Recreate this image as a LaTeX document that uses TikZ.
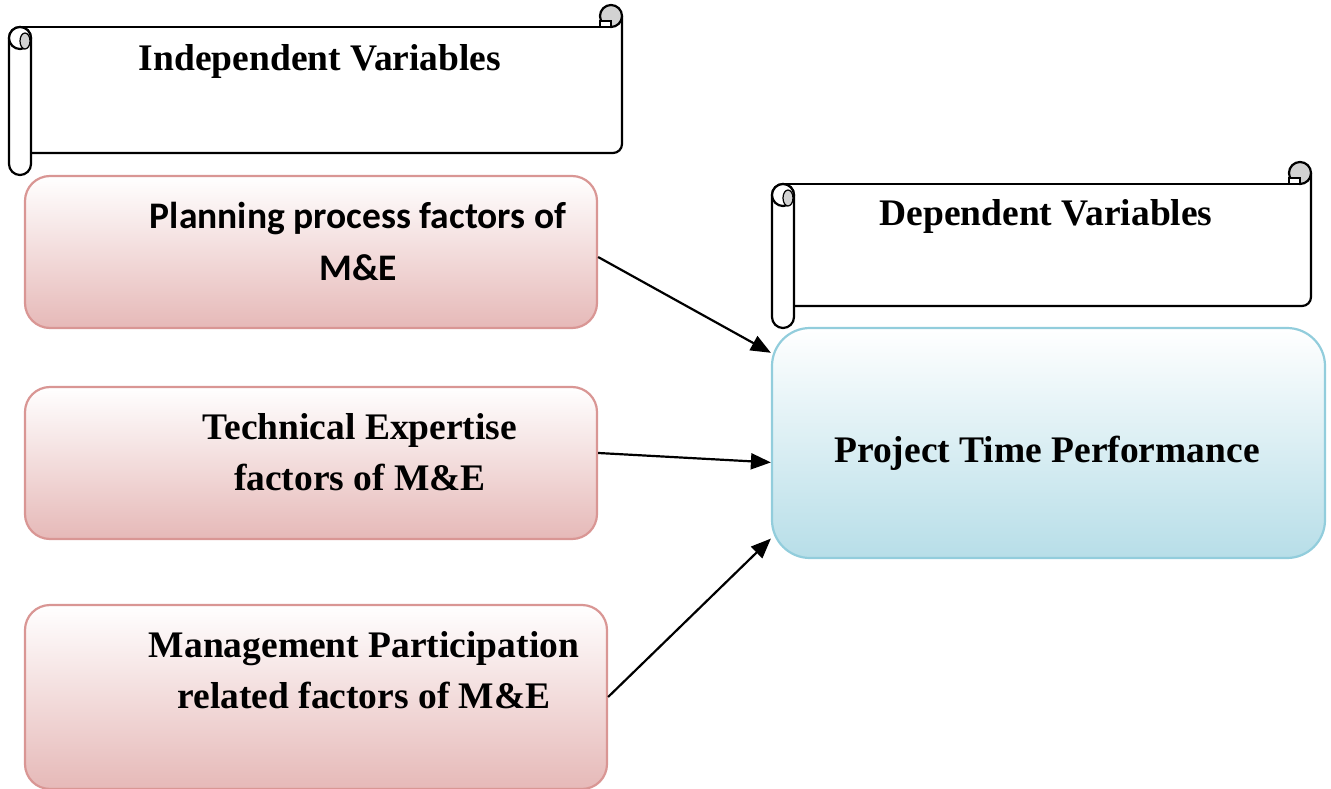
\documentclass[tikz,border=0pt]{standalone}
\usepackage{fontspec}
\setmainfont{Liberation Serif}
\newfontfamily\calibri{Carlito}
\usepackage{tikz}
\usetikzlibrary{arrows.meta}

\definecolor{pinkedge}{HTML}{D99694}
\definecolor{pinkfill}{HTML}{E6B9B8}
\definecolor{blueedge}{HTML}{92CDDC}
\definecolor{bluefill}{HTML}{B7DEE8}

% the scroll banner: left x, top y, right x, bottom y
\newcommand{\scrollbanner}[4]{
	\draw[rounded corners=11pt] (#1,{#2+22}) rectangle ({#1+22},#4);
	\draw ({#1+11},{#2+22}) -- ({#3-22},{#2+22});
	\draw[rounded corners=9pt] (#3,{#2+11}) -- (#3,{#4-22}) -- ({#1+22},{#4-22});
	\filldraw[fill=white] ({#1+11},{#2+33}) circle (11pt);
	\filldraw[fill=gray!35, line width=1.2pt] ({#1+16},{#2+36}) ellipse (5pt and 8pt);
	\filldraw[fill=gray!35] ({#3-11},{#2+11}) circle (11pt);
	\filldraw[fill=white] ({#3-22},{#2+22}) rectangle ({#3-11},{#2+16});
}

\begin{document}
\begin{tikzpicture}[x=1pt, y=-1pt, line width=2.2pt,
	indep/.style={draw=pinkedge, line width=2.2pt, rounded corners=25pt, top color=white, bottom color=pinkfill, inner sep=0pt},
	dep/.style={draw=blueedge, line width=2.2pt, rounded corners=38pt, top color=white, bottom color=bluefill, inner sep=0pt},
	label/.style={font=\fontsize{37.5}{51}\selectfont\bfseries, align=center, anchor=base},
	link/.style={line width=2.2pt, -{Triangle[length=20pt, width=16pt]}}]
	\useasboundingbox (0,0) rectangle (1331,789);
	% die Schriftrollen oben
	\scrollbanner{9}{5}{622}{175}
	\scrollbanner{772}{162}{1311}{328}
	\node[label] (indepT) at (320,71) {Independent Variables};
	\node[label] (depT) at (1046,225) {Dependent Variables};
	% die drei Einflussfaktoren
	\node[indep, minimum width=572pt, minimum height=152pt] (plan) at (311,252) {};
	\node[indep, minimum width=572pt, minimum height=152pt] (tech) at (311,463) {};
	\node[indep, minimum width=582pt, minimum height=184pt] (mgmt) at (316,697) {};
	\node[label, font=\calibri\fontsize{37.5}{52}\selectfont\bfseries] (planT) at (358,280) {Planning process factors of\\M\&E};
	\node[label] (techT) at (360,490) {Technical Expertise\\factors of M\&E};
	\node[label] (mgmtT) at (364,708) {Management Participation\\related factors of M\&E};
	% die Zielgroesse
	\node[dep, minimum width=553pt, minimum height=230pt] (perf) at (1048.5,443) {};
	\node[label] (perfT) at (1047,462) {Project Time Performance};
	% die Pfeile
	\draw[link] (plan.-1) -- (perf.162);
	\draw[link] (tech.2) -- (perf.184);
	\draw[link] (mgmt.east) -- (perf.199);
\end{tikzpicture}
\end{document}
